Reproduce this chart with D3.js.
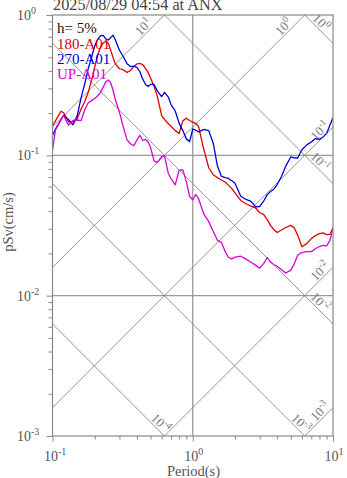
<!DOCTYPE html>
<html>
<head>
<meta charset="utf-8">
<script src="https://cdn.jsdelivr.net/npm/d3@7"></script>
<style>
  html, body { margin: 0; padding: 0; background: #fff; }
  svg { display: block; }
  text { font-family: "Liberation Serif", "Times New Roman", serif; }
</style>
</head>
<body>
<svg id="chart" width="347" height="478"></svg>
<script>
// Response spectrum periods (s)
const periods = [0.10, 0.105, 0.11, 0.115, 0.12, 0.125, 0.13, 0.14, 0.15, 0.16, 0.17, 0.18, 0.19, 0.20,
  0.21, 0.22, 0.23, 0.24, 0.25, 0.26, 0.27, 0.28, 0.30, 0.32, 0.34, 0.36, 0.38, 0.40, 0.42, 0.44, 0.46,
  0.48, 0.50, 0.53, 0.56, 0.60, 0.63, 0.67, 0.70, 0.75, 0.80, 0.85, 0.90, 0.95, 1.0, 1.05, 1.1, 1.2, 1.3,
  1.4, 1.5, 1.6, 1.7, 1.8, 1.9, 2.0, 2.2, 2.4, 2.6, 2.8, 3.0, 3.2, 3.4, 3.6, 3.8, 4.0, 4.3, 4.6, 5.0,
  5.3, 5.6, 6.0, 6.5, 7.0, 7.5, 8.0, 8.5, 9.0, 9.5, 10.0];

// Pseudo spectral velocity (cm/s), h = 5%
const sv180 = [0.162, 0.176, 0.191, 0.206, 0.201, 0.187, 0.173, 0.173, 0.182, 0.214, 0.242, 0.283, 0.344, 0.426,
  0.519, 0.592, 0.632, 0.647, 0.628, 0.560, 0.500, 0.450, 0.414, 0.406, 0.390, 0.402, 0.429, 0.448, 0.452, 0.442, 0.416,
  0.391, 0.355, 0.311, 0.262, 0.192, 0.180, 0.168, 0.161, 0.150, 0.143, 0.176, 0.184, 0.177, 0.1725, 0.169, 0.1605, 0.110, 0.0816,
  0.0727, 0.0693, 0.0667, 0.0646, 0.0611, 0.0579, 0.0540, 0.0477, 0.0452, 0.0435, 0.0423, 0.0390, 0.0379, 0.0348, 0.0314, 0.0295, 0.0282, 0.0294, 0.0306, 0.0317,
  0.0304, 0.0270, 0.0223, 0.0235, 0.0255, 0.0268, 0.0277, 0.0280, 0.0272, 0.0273, 0.0305];

const sv270 = [0.1385, 0.154, 0.166, 0.180, 0.193, 0.185, 0.180, 0.165, 0.191, 0.258, 0.325, 0.417, 0.502, 0.601,
  0.669, 0.712, 0.717, 0.675, 0.664, 0.690, 0.717, 0.669, 0.561, 0.504, 0.450, 0.429, 0.432, 0.424, 0.394, 0.349, 0.321,
  0.309, 0.320, 0.320, 0.287, 0.262, 0.281, 0.260, 0.230, 0.207, 0.169, 0.150, 0.131, 0.1255, 0.154, 0.151, 0.147, 0.153, 0.150,
  0.122, 0.0839, 0.0710, 0.0694, 0.0684, 0.0658, 0.0633, 0.0511, 0.0485, 0.0470, 0.0430, 0.0432, 0.0471, 0.0525, 0.0555, 0.0576, 0.0619, 0.0709, 0.0837, 0.0974,
  0.0960, 0.0957, 0.1095, 0.1187, 0.1245, 0.1316, 0.1299, 0.1351, 0.1433, 0.1637, 0.186];

const svUP = [0.109, 0.1515, 0.1645, 0.1795, 0.192, 0.177, 0.164, 0.1774, 0.1786, 0.177, 0.212, 0.237, 0.2455, 0.254,
  0.266, 0.281, 0.307, 0.334, 0.344, 0.328, 0.292, 0.252, 0.203, 0.159, 0.129, 0.121, 0.117, 0.129, 0.139, 0.1275, 0.130,
  0.125, 0.114, 0.0914, 0.0892, 0.0978, 0.0986, 0.0742, 0.0683, 0.0616, 0.0785, 0.0788, 0.0649, 0.0509, 0.0483, 0.0526, 0.0491, 0.0381, 0.0337,
  0.0287, 0.0248, 0.0240, 0.0207, 0.0187, 0.0183, 0.0188, 0.0191, 0.0182, 0.0173, 0.0165, 0.0157, 0.0169, 0.0187, 0.0173, 0.0166, 0.0162, 0.0153, 0.0145, 0.0152,
  0.0169, 0.0195, 0.0203, 0.0206, 0.0206, 0.0216, 0.0224, 0.0228, 0.0226, 0.0248, 0.0293];

const seriesNames = ["180-A01", "270-A01", "UP-A01"];
const seriesValues = [sv180, sv270, svUP];
const seriesColors = ["#e00000", "#0000d8", "#d800d8"];

// Tripartite guide levels
const accelLevels = [10, 1, 0.1, 0.01, 0.001];        // cm/s^2
const accelExp = ["1", "0", "-1", "-2", "-3"];
const dispLevels = [1, 0.1, 0.01, 0.001, 0.0001];     // cm
const dispExp = ["0", "-1", "-2", "-3", "-4"];

const xMajor = [0.1, 1, 10];
const xMajorExp = ["-1", "0", "1"];
const yMajor = [1, 0.1, 0.01, 0.001];
const yMajorExp = ["0", "-1", "-2", "-3"];

const titleText = "2025/08/29 04:54 at ANX";
const dampingText = "h= 5%";
const xTitle = "Period(s)";
const yTitle = "pSv(cm/s)";

// ---- layout ----
const L = 52.5, R = 333, T = 15, B = 436;
const svg = d3.select("#chart");
const x = d3.scaleLog().domain([0.1, 10]).range([L, R]);
const y = d3.scaleLog().domain([0.001, 1]).range([B, T]);
const grey = "#888";

svg.append("defs").append("clipPath").attr("id", "plotClip")
  .append("rect").attr("x", L).attr("y", T).attr("width", R - L).attr("height", B - T);

// grid at major decades
const grid = svg.append("g").attr("stroke", "#999").attr("stroke-width", 1.3);
xMajor.slice(1, -1).forEach(v => grid.append("line")
  .attr("x1", x(v)).attr("x2", x(v)).attr("y1", T).attr("y2", B));
yMajor.slice(1, -1).forEach(v => grid.append("line")
  .attr("x1", L).attr("x2", R).attr("y1", y(v)).attr("y2", y(v)));

// diagonal acceleration / displacement lines
const twoPi = 2 * Math.PI;
const diag = svg.append("g").attr("clip-path", "url(#plotClip)")
  .attr("stroke", grey).attr("stroke-width", 0.9).attr("fill", "none");
const labelLayer = svg.append("g");
const lblSize = 13, supSize = 9.5, margin = 1.5;
const s2 = Math.SQRT1_2;

function addPowLabel(g, exp, base, sup) {
  const t = g.append("text").attr("font-size", base);
  t.append("tspan").text("10");
  t.append("tspan").attr("font-size", sup).attr("dy", -base * 0.42).text(exp);
  return t;
}

function placeDiagLabel(p0, p1, exp, kind) {
  // kind "a": rising line, "d": falling line; label sits above the line near its right end
  const u = kind === "a" ? [s2, -s2] : [s2, s2];
  const n = kind === "a" ? [-s2, -s2] : [s2, -s2];
  const g = labelLayer.append("g");
  const t = addPowLabel(g, exp, lblSize, supSize)
    .attr("fill", "#777").attr("text-anchor", "middle").attr("dy", "0.33em");
  const len = t.node().getComputedTextLength();
  const e = (len + lblSize * 0.75) / (2 * Math.SQRT2) + 0.5;
  const exitRight = Math.abs(p1[0] - R) < 0.5;
  const exitTop = Math.abs(p1[1] - T) < 0.5;
  const perp = 6.5;
  let s = 0, cx, cy;
  for (; s < 200; s += 0.25) {
    cx = p1[0] - s * u[0] + perp * n[0];
    cy = p1[1] - s * u[1] + perp * n[1];
    if (exitRight && cx + e > R - margin) continue;
    if (!exitRight && exitTop && cy - e < T + margin) continue;
    if (!exitRight && !exitTop && cy + e > B - margin) continue;
    break;
  }
  g.attr("transform", `translate(${cx},${cy}) rotate(${kind === "a" ? -45 : 45})`);
}

accelLevels.forEach((A, i) => {
  const f = Tp => A * Tp / twoPi;
  const t0 = Math.max(0.1, twoPi * 0.001 / A), t1 = Math.min(10, twoPi * 1 / A);
  if (t0 >= t1) return;
  const p0 = [x(t0), y(f(t0))], p1 = [x(t1), y(f(t1))];
  diag.append("line").attr("x1", p0[0]).attr("y1", p0[1]).attr("x2", p1[0]).attr("y2", p1[1]);
  placeDiagLabel(p0, p1, accelExp[i], "a");
});
dispLevels.forEach((D, i) => {
  const f = Tp => twoPi * D / Tp;
  const t0 = Math.max(0.1, twoPi * D / 1), t1 = Math.min(10, twoPi * D / 0.001);
  if (t0 >= t1) return;
  const p0 = [x(t0), y(f(t0))], p1 = [x(t1), y(f(t1))];
  diag.append("line").attr("x1", p0[0]).attr("y1", p0[1]).attr("x2", p1[0]).attr("y2", p1[1]);
  placeDiagLabel(p0, p1, dispExp[i], "d");
});

// spectra
const lineGen = d3.line().x(d => x(d[0])).y(d => y(d[1]));
const curves = svg.append("g").attr("clip-path", "url(#plotClip)").attr("fill", "none");
seriesValues.forEach((vals, i) => {
  curves.append("path")
    .datum(periods.map((p, j) => [p, vals[j]]))
    .attr("d", lineGen)
    .attr("stroke", seriesColors[i]).attr("stroke-width", 1.3).attr("stroke-linejoin", "round");
});

// frame
svg.append("rect").attr("x", L).attr("y", T).attr("width", R - L).attr("height", B - T)
  .attr("fill", "none").attr("stroke", grey).attr("stroke-width", 1.2);

// axes ticks (outside)
const isMajor = v => Math.abs(Math.log10(v) - Math.round(Math.log10(v))) < 1e-6;
const yAxisMinor = d3.axisLeft(y).tickValues(y.ticks().filter(v => !isMajor(v))).tickSize(4).tickFormat("");
const yAxisMajor = d3.axisLeft(y).tickValues(yMajor).tickSize(6).tickFormat("");
const xAxisMinor = d3.axisBottom(x).tickValues(x.ticks().filter(v => !isMajor(v))).tickSize(3.5).tickFormat("");
const xAxisMajor = d3.axisBottom(x).tickValues(xMajor).tickSize(5.5).tickFormat("");
[yAxisMinor, yAxisMajor].forEach(ax => svg.append("g").attr("transform", `translate(${L},0)`).call(ax));
[xAxisMinor, xAxisMajor].forEach(ax => svg.append("g").attr("transform", `translate(0,${B})`).call(ax));
svg.selectAll(".domain").remove();
svg.selectAll(".tick line").attr("stroke", grey).attr("stroke-width", 1);

// tick labels
yMajor.forEach((v, i) => {
  addPowLabel(svg, yMajorExp[i], 14, 10).attr("x", 17).attr("y", y(v) + 5).attr("fill", "#555");
});
xMajor.forEach((v, i) => {
  addPowLabel(svg, xMajorExp[i], 14, 10).attr("x", x(v) - 8.5).attr("y", 460.5).attr("fill", "#555");
});

// axis titles
svg.append("text").attr("x", 193.5).attr("y", 475.5).attr("text-anchor", "middle")
  .attr("font-size", 14.5).attr("fill", "#555").text(xTitle);
svg.append("text").attr("transform", "translate(13,222) rotate(-90)").attr("text-anchor", "middle")
  .attr("font-size", 14.5).attr("fill", "#555").text(yTitle);

// title
svg.append("text").attr("x", 53).attr("y", 9.5).attr("font-size", 16.3)
  .attr("fill", "#444").text(titleText);

// legend
const leg = svg.append("g").attr("font-size", 15);
leg.append("text").attr("x", 57).attr("y", 33).attr("fill", "#111").text(dampingText);
seriesNames.forEach((nm, i) => {
  leg.append("text").attr("x", 57).attr("y", 48.5 + i * 15).attr("fill", seriesColors[i]).text(nm);
});
</script>
</body>
</html>
